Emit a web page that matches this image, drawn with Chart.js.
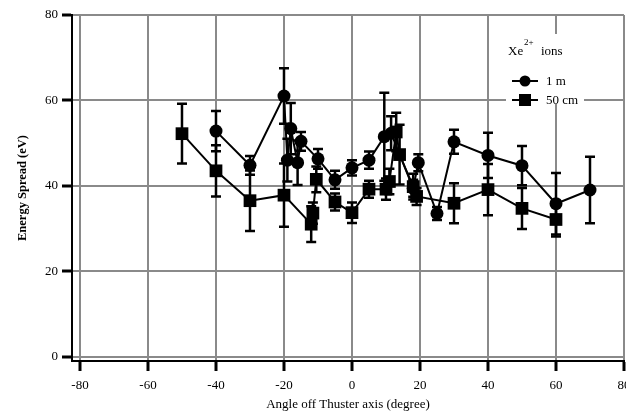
<!DOCTYPE html>
<html>
<head>
<meta charset="utf-8">
<script src="https://cdn.jsdelivr.net/npm/chart.js@4"></script>
<style>
  html, body { margin: 0; padding: 0; background: #fff; }
  #wrap { width: 626px; height: 417px; }
</style>
</head>
<body>
<div id="wrap"><canvas id="energyChart" width="626" height="417"></canvas></div>
<script>
// Xe2+ ions, 1 m probe distance
var angle1m  = [-40, -30, -20, -19, -18, -16, -15, -10, -5, 0, 5, 9.5, 11.5, 18, 19.5, 25, 30, 40, 50, 60, 70];
var spread1m = [52.8, 44.8, 61.0, 46.0, 53.4, 45.4, 50.4, 46.3, 41.4, 44.2, 46.0, 51.5, 52.3, 39.4, 45.4, 33.5, 50.3, 47.1, 44.7, 35.8, 39.0];
var err1m    = [4.7, 2.2, 6.5, 5.0, 6.0, 5.2, 2.2, 2.3, 2.1, 1.8, 2.0, 10.3, 4.0, 2.0, 2.0, 1.5, 2.8, 5.3, 4.6, 7.2, 7.8];

// Xe2+ ions, 50 cm probe distance
var angle50  = [-50, -40, -30, -20, -12, -11.5, -10.5, -5, 0, 5, 10, 11, 13, 14, 18, 19, 30, 40, 50, 60];
var spread50 = [52.2, 43.5, 36.5, 37.8, 31.0, 33.6, 41.5, 36.2, 33.7, 39.2, 39.2, 41.0, 52.6, 47.3, 39.8, 37.5, 35.9, 39.1, 34.7, 32.1];
var err50    = [7.0, 6.0, 7.1, 7.4, 4.2, 2.5, 3.0, 2.0, 2.4, 2.0, 2.5, 3.0, 4.5, 7.0, 3.0, 2.0, 4.7, 6.0, 4.8, 4.0];

var xTicks = [-80, -60, -40, -20, 0, 20, 40, 60, 80];
var yTicks = [0, 20, 40, 60, 80];

var serif = "'Liberation Serif', 'Times New Roman', serif";

function points(xs, ys) {
    return xs.map(function (x, i) { return { x: x, y: ys[i] }; });
}

// vertical error bars with caps
var errorBars = {
    id: 'errorBars',
    afterDatasetsDraw: function (chart) {
        var ctx = chart.ctx;
        var yScale = chart.scales.y;
        ctx.save();
        ctx.strokeStyle = '#000';
        ctx.lineWidth = 2.5;
        chart.data.datasets.forEach(function (ds, di) {
            var meta = chart.getDatasetMeta(di);
            meta.data.forEach(function (pt, i) {
                var e = ds.errors[i];
                var v = ds.data[i].y;
                var top = yScale.getPixelForValue(v + e);
                var bot = yScale.getPixelForValue(v - e);
                ctx.beginPath();
                ctx.moveTo(pt.x, top); ctx.lineTo(pt.x, bot);
                ctx.moveTo(pt.x - 5, top); ctx.lineTo(pt.x + 5, top);
                ctx.moveTo(pt.x - 5, bot); ctx.lineTo(pt.x + 5, bot);
                ctx.stroke();
            });
        });
        ctx.restore();
    }
};

// boxed legend in the upper right corner
var boxLegend = {
    id: 'boxLegend',
    afterDraw: function (chart) {
        var ctx = chart.ctx;
        ctx.save();
        ctx.fillStyle = '#fff';
        ctx.fillRect(506, 34, 78, 70);
        ctx.fillStyle = '#000';
        ctx.textBaseline = 'alphabetic';
        ctx.font = '13px ' + serif;
        ctx.fillText('Xe', 508, 55);
        ctx.font = '9px ' + serif;
        ctx.fillText('2+', 524, 45);
        ctx.font = '13px ' + serif;
        ctx.fillText('ions', 541, 55);

        var rows = [81, 100];
        chart.data.datasets.forEach(function (ds, i) {
            var y = rows[i];
            ctx.strokeStyle = '#000';
            ctx.lineWidth = 2;
            ctx.beginPath();
            ctx.moveTo(512, y); ctx.lineTo(538, y);
            ctx.stroke();
            ctx.beginPath();
            if (ds.pointStyle === 'circle') {
                ctx.arc(525, y, 5.5, 0, Math.PI * 2);
            } else {
                ctx.rect(519, y - 6, 12, 12);
            }
            ctx.fill();
            ctx.font = '13px ' + serif;
            ctx.textBaseline = 'middle';
            ctx.fillText(ds.label, 546, y + 1);
        });
        ctx.restore();
    }
};

var ctx = document.getElementById('energyChart').getContext('2d');
var energyChart = new Chart(ctx, {
    type: 'scatter',
    data: {
        datasets: [{
            label: '1 m',
            data: points(angle1m, spread1m),
            errors: err1m,
            showLine: true,
            borderColor: '#000',
            backgroundColor: '#000',
            borderWidth: 2,
            pointStyle: 'circle',
            pointRadius: 6.5,
            pointBorderWidth: 0
        }, {
            label: '50 cm',
            data: points(angle50, spread50),
            errors: err50,
            showLine: true,
            borderColor: '#000',
            backgroundColor: '#000',
            borderWidth: 2,
            pointStyle: 'rect',
            pointRadius: 9,
            pointBorderWidth: 0
        }]
    },
    options: {
        responsive: false,
        animation: false,
        layout: { autoPadding: false, padding: { top: 15, right: 2, left: 0, bottom: 0 } },
        plugins: {
            legend: { display: false },
            tooltip: { enabled: false }
        },
        scales: {
            x: {
                type: 'linear',
                min: -82.35,
                max: 80,
                afterBuildTicks: function (axis) {
                    axis.ticks = xTicks.map(function (v) { return { value: v }; });
                },
                afterFit: function (axis) {
                    axis.height = 56;
                    axis.paddingLeft = 0;
                    axis.paddingRight = 0;
                },
                grid: { color: '#8a8a8a', lineWidth: 2, tickColor: '#000', tickWidth: 3, tickLength: 10 },
                border: { color: '#000', width: 2 },
                ticks: { color: '#000', font: { family: serif, size: 13 }, padding: 7, maxRotation: 0 },
                title: {
                    display: true,
                    text: 'Angle off Thuster axis (degree)',
                    color: '#000',
                    font: { family: serif, size: 13 },
                    padding: { top: 0, bottom: 5 }
                }
            },
            y: {
                type: 'linear',
                min: -1.05,
                max: 80,
                afterBuildTicks: function (axis) {
                    axis.ticks = yTicks.map(function (v) { return { value: v }; });
                },
                afterFit: function (axis) {
                    axis.width = 72;
                },
                grid: { color: '#8a8a8a', lineWidth: 2, tickColor: '#000', tickWidth: 3, tickLength: 10 },
                border: { color: '#000', width: 2 },
                ticks: { color: '#000', font: { family: serif, size: 13 }, padding: 4 },
                title: {
                    display: true,
                    text: 'Energy Spread (eV)',
                    color: '#000',
                    font: { family: serif, size: 12.5, weight: 'bold' },
                    padding: { top: 15, bottom: 0 }
                }
            }
        }
    },
    plugins: [errorBars, boxLegend]
});
</script>
</body>
</html>
